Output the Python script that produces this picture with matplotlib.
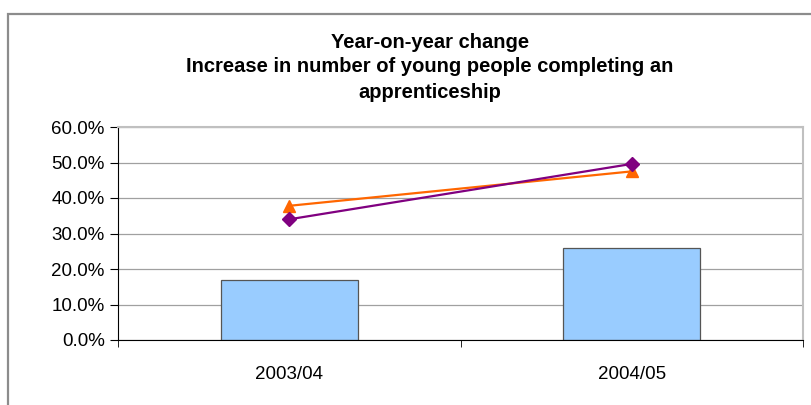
import numpy as np
import matplotlib.pyplot as plt
from matplotlib.patches import Rectangle
from matplotlib.ticker import FuncFormatter, FixedLocator

plt.rcParams['font.family'] = ['Liberation Sans', 'DejaVu Sans']

years = ["2003/04", "2004/05"]
bar_values = [16.8, 26.0]
purple_values = [34.0, 49.6]
orange_values = [37.8, 47.5]

fig = plt.figure(figsize=(8.11, 4.05), dpi=100)
# outer chart border
fig.patches.append(Rectangle((8 / 811, -0.05), 1.1, 1 - 14 / 405 + 0.05,
                             transform=fig.transFigure, fill=False,
                             edgecolor='#8c8c8c', lw=1.6))

ax = fig.add_axes([118 / 811, 1 - 340 / 405, (803 - 118) / 811, (340 - 127) / 405])
x = np.arange(len(years))

ax.bar(x, bar_values, width=0.4, color='#99ccff', edgecolor='#555555', lw=0.9, zorder=2)
ax.plot(x, orange_values, color='#ff6600', lw=1.6, marker='^', ms=9, zorder=3)
ax.plot(x, purple_values, color='#800080', lw=1.6, marker='D', ms=7.5, zorder=4)

ax.set_xlim(-0.5, 1.5)
ax.set_ylim(0, 60)
ax.set_yticks(np.arange(0, 61, 10))
ax.yaxis.set_major_formatter(FuncFormatter(lambda v, p: f"{v:.1f}%"))
ax.yaxis.grid(True, color='#a0a0a0', lw=0.9, zorder=0)
ax.set_axisbelow(True)

ax.set_xticks(x)
ax.set_xticklabels(years)
ax.xaxis.set_minor_locator(FixedLocator([-0.5, 0.5, 1.5]))
ax.tick_params(axis='x', which='major', length=0, pad=19, labelsize=13.5)
ax.tick_params(axis='x', which='minor', length=5, direction='out', color='black')
ax.tick_params(axis='y', length=6, direction='out', labelsize=13.5, pad=3.5)

for s in ['top', 'right']:
    ax.spines[s].set_color('#c0c0c0')
    ax.spines[s].set_linewidth(1.5)
ax.spines['left'].set_color('black')
ax.spines['bottom'].set_color('black')

fig.text(430 / 811, 1 - 42 / 405, "Year-on-year change", ha='center', va='center',
         fontsize=14.5, fontweight='bold')
fig.text(430 / 811, 1 - 67 / 405, "Increase in number of young people completing an",
         ha='center', va='center', fontsize=14.5, fontweight='bold')
fig.text(430 / 811, 1 - 92 / 405, "apprenticeship", ha='center', va='center',
         fontsize=14.5, fontweight='bold')

fig.savefig("out.png", dpi=100)
